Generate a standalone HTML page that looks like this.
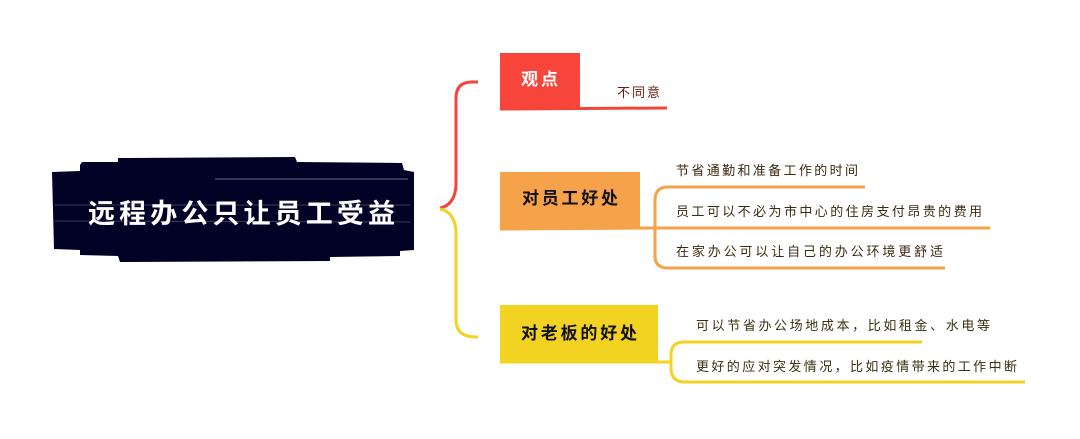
<!DOCTYPE html>
<html><head><meta charset="utf-8"><style>
html,body{margin:0;padding:0;background:#fff;}
svg{display:block}
text{font-family:"Liberation Sans","Noto Sans CJK SC",sans-serif;}
</style></head><body>
<svg width="1080" height="439" viewBox="0 0 1080 439" xmlns="http://www.w3.org/2000/svg">
<!-- central -->
<path d="M80 165 L82 162 L118 162 L118 158 L295 157 L297 162 L402 163 L404 170 L414 172 L414 250 L400 251 L400 256 L330 257 L330 261 L120 262 L118 256 L80 255 L80 250 L54 249 L52 172 L80 171 Z" fill="#020226"/>
<line x1="215" y1="179" x2="408" y2="179" stroke="#6a6a80" stroke-width="1"/>
<line x1="55" y1="205" x2="410" y2="205" stroke="#3a3a55" stroke-width="1"/>
<line x1="55" y1="221" x2="410" y2="222" stroke="#3a3a55" stroke-width="1"/>
<text x="88" y="223" font-size="27" font-weight="bold" fill="#fff" textLength="307" lengthAdjust="spacing">远程办公只让员工受益</text>

<!-- connectors -->
<path d="M440 208 Q455 205 456 185 L456 98 Q456 82 472 82 L478 82" fill="none" stroke="#f4453a" stroke-width="3"/>
<path d="M440 209 Q455 212 456 232 L456 320 Q456 337 476 337 L478 337" fill="none" stroke="#f2d321" stroke-width="3"/>

<!-- red -->
<rect x="500" y="53" width="80" height="56" fill="#f7453b"/>
<text x="521" y="85" font-size="17" font-weight="bold" fill="#fff" textLength="37" lengthAdjust="spacing">观点</text>
<path d="M500 109 L667 108" stroke="#f4453a" stroke-width="3"/>
<text x="617" y="97" font-size="13" fill="#6b1a10" textLength="43" lengthAdjust="spacing">不同意</text>

<!-- orange -->
<rect x="500" y="172" width="140" height="56" fill="#f5a24b"/>
<text x="522" y="204" font-size="17" font-weight="bold" fill="#111" textLength="96" lengthAdjust="spacing">对员工好处</text>
<path d="M500 229 L655 228" stroke="#f5a24b" stroke-width="3"/>
<path d="M865 187 L668 187 Q655 187 655 200 L655 256 Q655 268 668 268 L945 268" fill="none" stroke="#f5a24b" stroke-width="3"/>
<path d="M640 228 L990 228" stroke="#f5a24b" stroke-width="3"/>
<text x="676" y="175" font-size="13" fill="#3a2a10" textLength="182" lengthAdjust="spacing">节省通勤和准备工作的时间</text>
<text x="676" y="216" font-size="13" fill="#3a2a10" textLength="306" lengthAdjust="spacing">员工可以不必为市中心的住房支付昂贵的费用</text>
<text x="676" y="256" font-size="13" fill="#3a2a10" textLength="267" lengthAdjust="spacing">在家办公可以让自己的办公环境更舒适</text>

<!-- yellow -->
<rect x="500" y="305" width="158" height="57" fill="#f2d321"/>
<text x="521" y="339" font-size="17" font-weight="bold" fill="#111" textLength="116" lengthAdjust="spacing">对老板的好处</text>
<path d="M500 362 L640 362" stroke="#f2d321" stroke-width="3"/>
<path d="M922 342 L684 342 Q671 342 671 355 L671 368 Q671 382 685 382 L1025 382" fill="none" stroke="#f2d321" stroke-width="3"/>
<path d="M640 362 L671 362" stroke="#f2d321" stroke-width="3"/>
<text x="696" y="330" font-size="13" fill="#3a3010" textLength="294" lengthAdjust="spacing">可以节省办公场地成本，比如租金、水电等</text>
<text x="696" y="371" font-size="13" fill="#3a3010" textLength="321" lengthAdjust="spacing">更好的应对突发情况，比如疫情带来的工作中断</text>
</svg>
</body></html>
